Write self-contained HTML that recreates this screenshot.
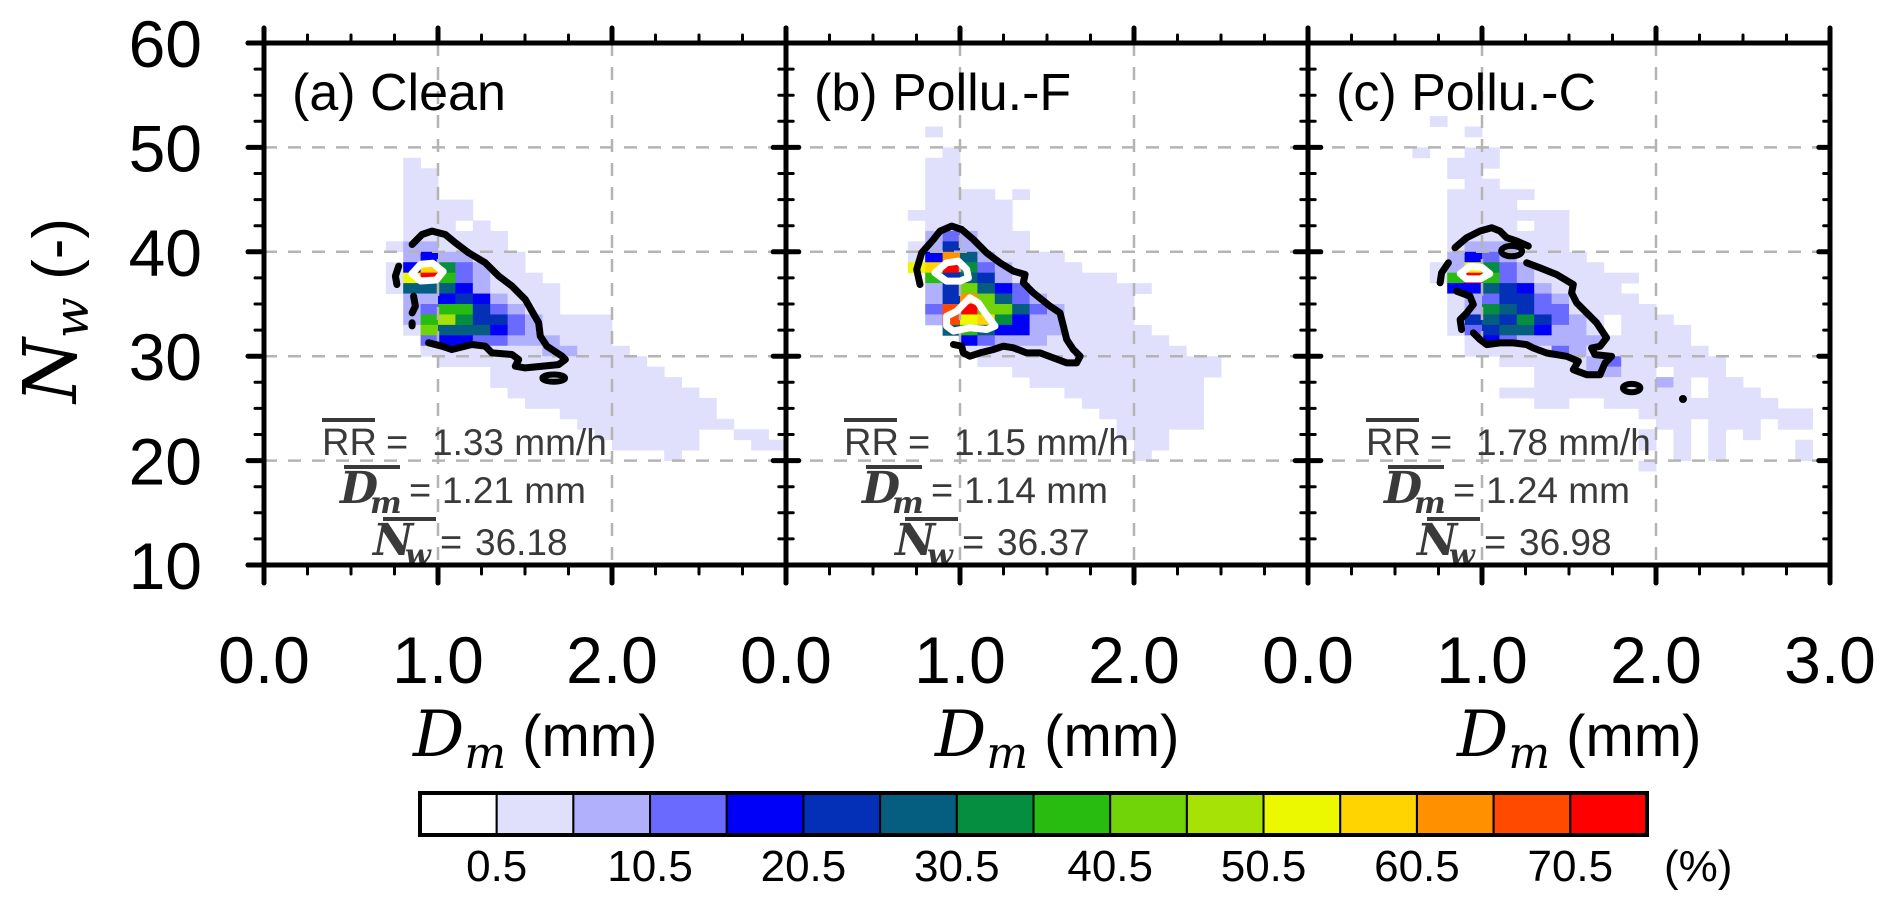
<!DOCTYPE html>
<html><head><meta charset="utf-8"><style>
html,body{margin:0;padding:0;background:#fff;}
svg{display:block;}
</style></head><body>
<svg id="chart" width="1892" height="902" viewBox="0 0 1892 902" xmlns="http://www.w3.org/2000/svg">
<g id="cells"></g>
<g id="grid"></g>
<g id="contours"></g>
<g id="stats"></g>
<g id="axes"></g>
<g id="cbar"></g>
</svg>
<script>
// ---- data ----
const panelTitles = ["(a) Clean", "(b) Pollu.-F", "(c) Pollu.-C"];
const rrValues = ["1.33", "1.15", "1.78"];
const dmValues = ["1.21", "1.14", "1.24"];
const nwValues = ["36.18", "36.37", "36.98"];
const xTickLabels = ["0.0", "1.0", "2.0"];
const xTickLabelsLast = ["0.0", "1.0", "2.0", "3.0"];
const yTickValues = [10, 20, 30, 40, 50, 60];
const levelColors = ["#ffffff","#e0e0fc","#b0b0fc","#6a6aff","#0000f8","#0430b8","#055e80","#068e40","#28bc10","#70d408","#a6e206","#ecf800","#ffd400","#ff9000","#ff4a00","#ff0000"];
const cbarLabels = ["0.5","10.5","20.5","30.5","40.5","50.5","60.5","70.5"];
// heatmap rows: [Nw bin start, "col:levels ..."] ; col = Dm bin (0.1 mm), level code 1-9,a-f
const gridA = [[48,"8:1"],[47,"8:11"],[46,"8:11"],[45,"8:11"],[44,"8:1111"],[43,"8:1111"],[42,"8:111 12:1"],[41,"8:111111"],
 [40,"7:1221111"],[39,"8:2422111"],[38,"7:14c73211"],[37,"7:1bf832111"],[36,"7:1666421111"],[35,"8:224542111"],
 [34,"8:238853211"],[33,"8:28a755321111"],[32,"8:196664321111"],[31,"9:34433222111"],[30,"9:111111122111"],
 [29,"10:111111111111"],[28,"13:1111111111"],[27,"13:11111111111"],[26,"14:11111111111"],[25,"15:11111111111"],
 [24,"17:111111111"],[23,"18:111111111"],[22,"19:111111 27:11"],[21,"20:11111 28:11"],[20,"23:1"]];
const gridB = [[51,"8:1"],[49,"9:1"],[48,"8:11"],[47,"8:11"],[46,"8:11"],[45,"8:1111 13:1"],[44,"8:11111"],[43,"7:111111"],
 [42,"8:11111"],[41,"8:232111"],[40,"7:1252111"],[39,"7:14d621111"],[38,"7:bcf7321111"],[37,"8:85652111111"],
 [36,"8:2596431111111"],[35,"8:25d963211111"],[34,"8:3ef996321111"],[33,"8:2ebc74221111"],[32,"9:686442211111"],
 [31,"10:432221111111"],[30,"10:1111111111111"],[29,"11:11111111111111"],[28,"13:111111111111"],[27,"14:1111111111"],
 [26,"16:11111111"],[25,"17:1111111"],[24,"18:111111"],[23,"19:11111"],[22,"19:111"],[21,"20:11"],[20,"20:1"]];
const gridC = [[52,"7:1"],[51,"9:1"],[49,"6:1 9:11"],[48,"8:111"],[47,"8:11"],[46,"9:11"],[45,"8:11111"],[44,"8:1111"],
 [43,"8:111111 14:1"],[42,"8:1111 13:11"],[41,"8:1111111"],[40,"8:1222111"],[39,"8:24321111"],[38,"7:12b7321111"],
 [37,"7:18f832111111"],[36,"8:4465421111"],[35,"8:12355321111"],[34,"8:127653311111"],[33,"8:156575321 18:111"],
 [32,"8:135664221 18:1111"],[31,"9:1432222211111"],[30,"9:11111321111111"],[29,"11:1111123111111"],
 [28,"13:1112211 21:111"],[27,"13:111111121 23:11"],[26,"11:11 13:1111 17:11111 23:111"],[25,"13:11 17:1111111111"],
 [24,"19:111111111 28:1"],[23,"20:11 23:111 27:11"],[22,"19:1 21:1 23:1 25:1"],[21,"19:1 21:1 23:1 28:1"],[20,"21:1 23:1 28:1"],[19,"19:1"]];
// contours [Dm, Nw]
const blackA = [[0.851,40.70],[0.908,41.66],[0.966,41.98],[1.042,41.66],[1.100,40.86],[1.176,39.90],[1.272,38.95],[1.349,37.67],[1.425,36.71],[1.502,35.43],[1.540,34.31],[1.579,33.19],[1.588,31.92],[1.626,30.96],[1.713,30.00],[1.732,29.68],[1.693,29.20],[1.502,28.88],[1.444,29.04],[1.464,29.68],[1.425,30.16],[1.310,30.32],[1.272,30.96],[1.195,31.12],[1.080,30.64],[1.023,30.96],[0.946,31.28]];
const blackA2 = [[0.774,38.63],[0.755,37.67],[0.764,36.87]];
const blackA3 = [[0.860,35.75],[0.870,34.79],[0.851,34.15]];
const blackA4 = [[0.851,33.2],[0.851,32.9]];
const whiteA = [[0.850,37.9],[0.900,38.8],[0.970,38.9],[1.030,38.1],[0.990,37.3],[0.900,37.2]];
const blackB = [[0.770,36.87],[0.751,38.31],[0.780,39.90],[0.847,41.18],[0.885,41.98],[0.952,42.46],[1.010,42.14],[1.077,41.18],[1.153,39.90],[1.230,38.95],[1.307,38.15],[1.374,37.83],[1.364,37.03],[1.421,36.07],[1.517,34.79],[1.575,34.15],[1.594,32.88],[1.613,31.60],[1.651,30.64],[1.690,30.00],[1.670,29.36],[1.613,29.36],[1.460,30.32],[1.383,30.32],[1.307,30.80],[1.249,30.96],[1.192,30.64],[1.115,30.32],[1.057,30.00],[1.019,30.32],[1.010,30.96],[0.962,31.12]];
const whiteB1 = [[0.856,37.99],[0.923,38.95],[0.990,39.11],[1.038,38.31],[1.048,37.51],[1.000,37.19],[0.923,37.19],[0.856,37.99]];
const whiteB2 = [[0.923,33.83],[0.981,34.31],[1.057,35.59],[1.105,35.11],[1.144,34.15],[1.201,32.88],[1.153,32.56],[1.057,32.72],[0.962,32.40],[0.923,32.88],[0.923,33.83]];
const blackC1 = [[0.845,40.39],[0.912,41.35],[0.989,41.99],[1.056,42.31],[1.103,41.99],[1.142,41.35],[1.199,41.03],[1.266,40.55]];
const blackC2 = [[1.257,38.95],[1.333,38.47],[1.429,37.83],[1.525,36.87],[1.515,36.07],[1.544,35.11],[1.602,34.15],[1.659,33.19],[1.716,31.75],[1.678,30.95],[1.630,30.79],[1.649,30.15],[1.745,29.99],[1.707,29.35],[1.678,28.23],[1.602,28.23],[1.525,28.71],[1.554,29.51],[1.487,29.99],[1.372,30.31],[1.295,30.79],[1.257,31.11],[1.180,31.27],[1.103,31.27],[1.027,31.11],[0.989,31.59],[0.950,32.23]];
const blackC3 = [[0.807,38.95],[0.768,37.99],[0.759,37.03]];
const blackC4 = [[0.854,36.23],[0.931,35.75],[0.950,34.95],[0.912,34.15],[0.874,33.51],[0.883,32.55]];
const whiteC = [[0.875,37.9],[0.930,38.6],[1.000,38.5],[1.045,37.9],[0.990,37.4],[0.910,37.4],[0.875,37.9]];
// ellipses [panel, Dm, Nw, rD, rNw]
const smallLoops = [[0,1.665,27.9,0.065,0.35],[2,1.170,40.07,0.06,0.5],[2,1.860,26.95,0.05,0.4]];
const dots = [[2,2.155,25.9]];

// ---- scales ----
const PX0 = 264, PW = 522, DMAX = 3.0, YT = 43, YB = 565, NMIN = 10, NMAX = 60;
function xs(p, d){ return PX0 + p*PW + d*(PW/DMAX); }
function ys(n){ return YB - (n-NMIN)*(YB-YT)/(NMAX-NMIN); }
const NS = "http://www.w3.org/2000/svg";
function mk(tag, attrs, parent){ const e=document.createElementNS(NS,tag); for(const k in attrs) e.setAttribute(k, attrs[k]); parent.appendChild(e); return e; }
const gCells=document.getElementById('cells'), gGrid=document.getElementById('grid'), gCon=document.getElementById('contours'),
 gStats=document.getElementById('stats'), gAxes=document.getElementById('axes'), gBar=document.getElementById('cbar');

// ---- cells ----
const grids=[gridA,gridB,gridC];
grids.forEach((grid,p)=>{
  grid.forEach(([nw,spec])=>{
    spec.split(' ').forEach(seg=>{
      const [c0,codes]=seg.split(':'); const start=parseInt(c0);
      for(let i=0;i<codes.length;i++){
        const lv=parseInt(codes[i],16); if(!lv) continue;
        const d=(start+i)*0.1;
        const r=mk('rect',{x:xs(p,d),y:ys(nw+1),width:xs(p,d+0.1)-xs(p,d)+0.4,height:ys(nw)-ys(nw+1)+0.4,fill:levelColors[lv]},gCells);
        
        
      }
    });
  });
});

// ---- grid ----
for(let p=0;p<3;p++){
  [1,2].forEach(d=>{ const l=mk('line',{x1:xs(p,d),x2:xs(p,d),y1:YT,y2:YB,stroke:'#b4b4b4','stroke-width':2.5,'stroke-dasharray':'13 11'},gGrid);
      });
  [20,30,40,50].forEach(n=>{ const l=mk('line',{x1:xs(p,0),x2:xs(p,3),y1:ys(n),y2:ys(n),stroke:'#b4b4b4','stroke-width':2.5,'stroke-dasharray':'13 11'},gGrid);
      });
}

// ---- contours ----
function poly(p, pts, color, name){
  const d=pts.map((q,i)=>(i?'L':'M')+xs(p,q[0]).toFixed(1)+' '+ys(q[1]).toFixed(1)).join(' ');
  const e=mk('path',{d:d,fill:'none',stroke:color,'stroke-width':7,'stroke-linejoin':'round','stroke-linecap':'round'},gCon);
  
  
}
poly(0,blackA,'#000','contour-low'); poly(0,blackA2,'#000','contour-low'); poly(0,blackA3,'#000','contour-low'); poly(0,blackA4,'#000','contour-low');
poly(0,whiteA.concat([whiteA[0]]),'#fff','contour-high');
poly(1,blackB,'#000','contour-low'); poly(1,whiteB1,'#fff','contour-high'); poly(1,whiteB2,'#fff','contour-high');
poly(2,blackC1,'#000','contour-low'); poly(2,blackC2,'#000','contour-low'); poly(2,blackC3,'#000','contour-low'); poly(2,blackC4,'#000','contour-low');
poly(2,whiteC,'#fff','contour-high');
smallLoops.forEach(s=>{
  const e=mk('ellipse',{cx:xs(s[0],s[1]),cy:ys(s[2]),rx:xs(s[0],s[3])-xs(s[0],0),ry:ys(0)-ys(s[4]),fill:'none',stroke:'#000','stroke-width':6},gCon);
  
  
});
dots.forEach(s=>{
  const e=mk('circle',{cx:xs(s[0],s[1]),cy:ys(s[2]),r:4,fill:'#000'},gCon);
  
  
});

// ---- stats + titles ----
function txt(x,y,s,attrs,name,parent){ const e=mk('text',Object.assign({x:x,y:y},attrs),parent||gStats); e.textContent=s;
    return e; }
const SANS='"Liberation Sans", Helvetica, Arial, sans-serif', SERIF='"DejaVu Serif", "Liberation Serif", serif';
const TC='#3a3a3a';
for(let p=0;p<3;p++){
  const x0=PX0+p*PW;
  txt(x0+28,110,panelTitles[p],{'font-family':SANS,'font-size':52,fill:'#000'},'panel-title');
  // RR
  txt(x0+58,455,'RR',{'font-family':SANS,'font-size':38,fill:TC},'rr-symbol');
  mk('line',{x1:x0+58,x2:x0+111,y1:420,y2:420,stroke:TC,'stroke-width':4},gStats);
  txt(x0+122,455,'=',{'font-family':SANS,'font-size':38,fill:TC},'rr-equals');
  txt(x0+168,455,rrValues[p]+' mm/h',{'font-family':SANS,'font-size':37,fill:TC},'rr-value');
  // Dm
  txt(x0+76,503,'D',{'font-family':SERIF,'font-size':44,'font-style':'italic','font-weight':'bold',fill:TC},'dm-symbol');
  txt(x0+106,513,'m',{'font-family':SERIF,'font-size':30,'font-style':'italic','font-weight':'bold',fill:TC},'dm-subscript');
  mk('line',{x1:x0+80,x2:x0+136,y1:467,y2:467,stroke:TC,'stroke-width':4},gStats);
  txt(x0+145,503,'=',{'font-family':SANS,'font-size':38,fill:TC},'dm-equals');
  txt(x0+178,503,dmValues[p]+' mm',{'font-family':SANS,'font-size':37,fill:TC},'dm-value');
  // Nw
  txt(x0+109,555,'N',{'font-family':SERIF,'font-size':44,'font-style':'italic','font-weight':'bold',fill:TC},'nw-symbol');
  txt(x0+141,565,'w',{'font-family':SERIF,'font-size':30,'font-style':'italic','font-weight':'bold',fill:TC},'nw-subscript');
  mk('line',{x1:x0+119,x2:x0+172,y1:519,y2:519,stroke:TC,'stroke-width':4},gStats);
  txt(x0+176,555,'=',{'font-family':SANS,'font-size':38,fill:TC},'nw-equals');
  txt(x0+211,555,nwValues[p],{'font-family':SANS,'font-size':37,fill:TC},'nw-value');
}

// ---- axes ----
function ln(x1,y1,x2,y2,w,name){ const e=mk('line',{x1:x1,y1:y1,x2:x2,y2:y2,stroke:'#000','stroke-width':w,'stroke-linecap':'round'},gAxes);
    }
for(let p=0;p<3;p++){
  for(let k=0;k<=12;k++){
    const d=k*0.25, x=xs(p,d), maj=(k%4===0);
    ln(x,YB,x,YB+(maj?18:9),maj?5:3,'x-tick');
    ln(x,YT,x,YT-(maj?15:8),maj?5:3,'x-tick-top');
  }
  const labs = p===2?xTickLabelsLast:xTickLabels;
  labs.forEach((s,i)=>txt(xs(p,i),683,s,{'font-family':SANS,'font-size':66,'text-anchor':'middle',fill:'#000'},'x-tick-label',gAxes));
  // x axis title
  const t=mk('text',{x:PX0+p*PW+149,y:756,fill:'#000'},gAxes);
   
  const a=mk('tspan',{'font-family':SERIF,'font-style':'italic','font-size':64},t); a.textContent='D';
  const b=mk('tspan',{'font-family':SERIF,'font-style':'italic','font-size':44,dy:12},t); b.textContent='m';
  const c=mk('tspan',{'font-family':SANS,'font-size':58,dy:-12},t); c.textContent=' (mm)';
}
const verticals=[PX0,PX0+PW,PX0+2*PW,PX0+3*PW];
verticals.forEach((x,i)=>{
  for(let k=0;k<=20;k++){
    const n=10+k*2.5, y=ys(n), maj=(k%4===0);
    const L=maj?16:9;
    if(i===0) ln(x-L,y,x,y,maj?5:3,'y-tick');
    else if(i===3) ln(x-L*0.7,y,x,y,maj?5:3,'y-tick-right');
    else ln(x-L*0.8,y,x+L*0.8,y,maj?5:3,'y-tick-inner');
  }
  ln(x,YT,x,YB,5,'panel-border');
});
ln(PX0-16,YT,PX0+3*PW,YT,5,'top-axis');
ln(PX0-16,YB,PX0+3*PW,YB,5,'bottom-axis');
yTickValues.forEach(v=>txt(202,ys(v)+24,String(v),{'font-family':SANS,'font-size':66,'text-anchor':'end',fill:'#000'},'y-tick-label',gAxes));
{
  const t=mk('text',{transform:'translate(76,403) rotate(-90)',fill:'#000'},gAxes);
   
  const a=mk('tspan',{'font-family':SERIF,'font-style':'italic','font-size':74},t); a.textContent='N';
  const b=mk('tspan',{'font-family':SERIF,'font-style':'italic','font-size':48,dy:12},t); b.textContent='w';
  const c=mk('tspan',{'font-family':SANS,'font-size':62,dy:-12},t); c.textContent=' (-)';
}

// ---- colorbar ----
const CB0=420, CB1=1647, CBY=793, CBH=42;
const bw=(CB1-CB0)/levelColors.length;
levelColors.forEach((c,i)=>{
  const r=mk('rect',{x:CB0+i*bw,y:CBY,width:bw,height:CBH,fill:c,stroke:'#000','stroke-width':2},gBar);
  
  
});
const fr=mk('rect',{x:CB0,y:CBY,width:CB1-CB0,height:CBH,fill:'none',stroke:'#000','stroke-width':4},gBar);


cbarLabels.forEach((s,i)=>txt(CB0+(2*i+1)*bw,881,s,{'font-family':SANS,'font-size':44,'text-anchor':'middle',fill:'#000'},'colorbar-label',gBar));
txt(1664,881,'(%)',{'font-family':SANS,'font-size':44,fill:'#000'},'colorbar-unit',gBar);
</script>
</body></html>
